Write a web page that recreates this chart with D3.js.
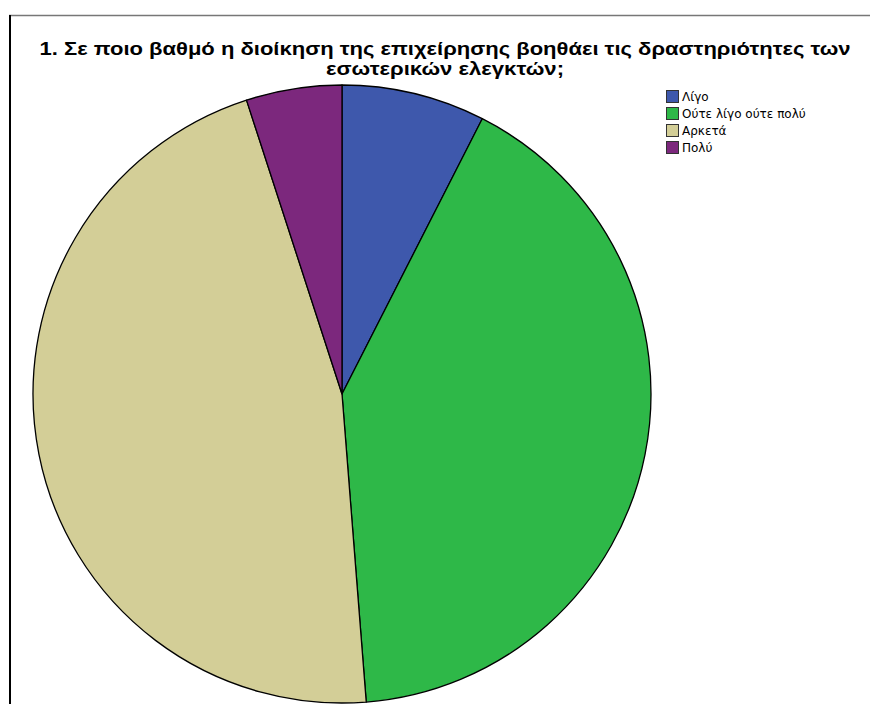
<!DOCTYPE html>
<html>
<head>
<meta charset="utf-8">
<script src="https://cdn.jsdelivr.net/npm/d3@7"></script>
<style>
  html, body { margin: 0; padding: 0; background: #fff; }
  svg { display: block; }
</style>
</head>
<body>
<svg id="chart" width="870" height="704"></svg>
<script>
// Response categories and counts
const categories = ["Λίγο", "Ούτε λίγο ούτε πολύ", "Αρκετά", "Πολύ"];
const counts = [6, 33, 37, 4];
const colors = ["#3E58AC", "#2EB848", "#D3CE97", "#7C287D"];
const titleLines = [
  "1. Σε ποιο βαθμό η διοίκηση της επιχείρησης βοηθάει τις δραστηριότητες των",
  "εσωτερικών ελεγκτών;"
];
const titleWidths = [811, 238];

const svg = d3.select("#chart");
const W = 870, H = 704;

// Frame edges
svg.append("line").attr("x1", 9).attr("x2", 870).attr("y1", 15.5).attr("y2", 15.5)
  .attr("stroke", "#777").attr("stroke-width", 1.5);
svg.append("line").attr("x1", 10).attr("x2", 10).attr("y1", 15).attr("y2", H)
  .attr("stroke", "#000").attr("stroke-width", 2);

// Title
svg.append("g").selectAll("text").data(titleLines).join("text")
  .attr("x", 445).attr("y", (d, i) => 55 + i * 20)
  .attr("text-anchor", "middle")
  .attr("font-family", "Liberation Sans, Arial, sans-serif")
  .attr("font-weight", "bold").attr("font-size", 19)
  .attr("textLength", (d, i) => titleWidths[i])
  .attr("lengthAdjust", "spacingAndGlyphs")
  .attr("fill", "#000")
  .text(d => d);

// Pie
const cx = 342, cy = 394, r = 309;
const color = d3.scaleOrdinal().domain(categories).range(colors);
const pie = d3.pie().sort(null).value(d => d.value);
const arc = d3.arc().innerRadius(0).outerRadius(r);
const data = categories.map((c, i) => ({ name: c, value: counts[i] }));

svg.append("g").attr("transform", `translate(${cx},${cy})`)
  .selectAll("path").data(pie(data)).join("path")
  .attr("d", arc)
  .attr("fill", d => color(d.data.name))
  .attr("stroke", "#000").attr("stroke-width", 1.3)
  .attr("stroke-linejoin", "round");

// Legend
const legend = svg.append("g").attr("transform", "translate(666,90)");
const items = legend.selectAll("g").data(categories).join("g")
  .attr("transform", (d, i) => `translate(0,${i * 17})`);
items.append("rect").attr("x", 0.5).attr("y", 0.5).attr("width", 12).attr("height", 12)
  .attr("fill", d => color(d)).attr("stroke", "#333").attr("stroke-width", 1);
items.append("text").attr("x", 16).attr("y", 11)
  .attr("font-family", "DejaVu Sans, Verdana, sans-serif").attr("font-size", 12)
  .attr("fill", "#000").text(d => d);
</script>
</body>
</html>
